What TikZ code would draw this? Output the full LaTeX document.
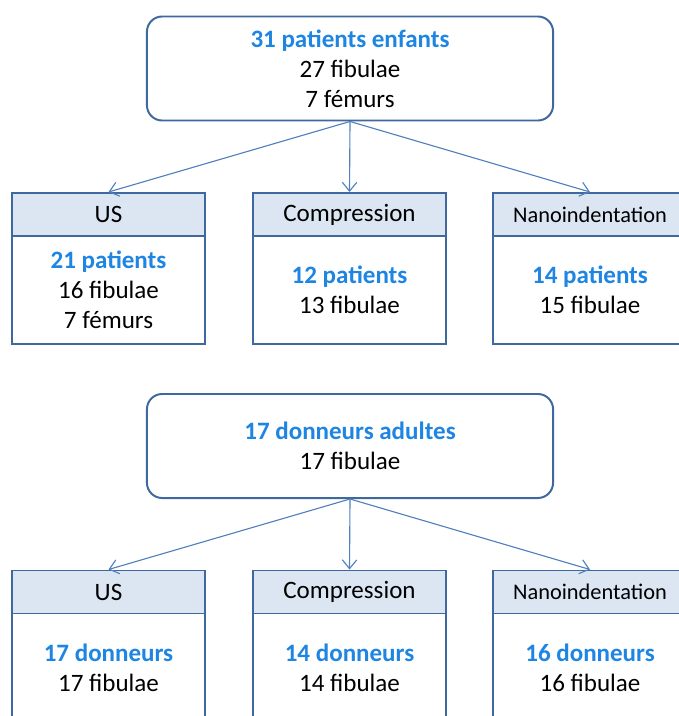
\documentclass[tikz,border=0pt]{standalone}
\usepackage{fontspec}
\setmainfont{Carlito}
\usetikzlibrary{arrows.meta}
\definecolor{boxEdge}{RGB}{62,104,158}
\definecolor{linkBlue}{RGB}{80,128,190}
\definecolor{headFill}{RGB}{220,230,242}
\definecolor{countBlue}{RGB}{31,133,226}
\newcommand{\countline}[1]{\textcolor{countBlue}{\bfseries #1}}
\begin{document}
\begin{tikzpicture}[x=0.025cm,y=-0.025cm,font=\fontsize{17.8}{21.3}\selectfont,
groupBox/.style={draw=boxEdge,line width=1.4pt,rounded corners=0.38cm,fill=white,
  minimum width=10.15cm,minimum height=2.6cm,align=center,inner sep=0pt},
headBox/.style={draw=boxEdge,line width=1.4pt,fill=headFill,
  minimum width=4.825cm,minimum height=1.075cm,inner sep=0pt},
bodyBox/.style={draw=boxEdge,line width=1.4pt,fill=white,
  minimum width=4.825cm,align=center,inner sep=0pt},
link/.style={draw=linkBlue,line width=0.8pt,-{Straight Barb[length=2.2mm,width=3.6mm]}}]
\useasboundingbox (0,0) rectangle (678,716);
% enfants
\node[groupBox] (kids) at (350,68.5) {\countline{31 patients enfants}\\27 fibulae\\7 fémurs};
\node[bodyBox,minimum height=2.7cm] (kidsUSbody) at (108.5,290) {\countline{21 patients}\\16 fibulae\\7 fémurs};
\node[headBox] (kidsUS) at (108.5,214.5) {US};
\node[bodyBox,minimum height=2.7cm] (kidsCompbody) at (349.5,290) {\countline{12 patients}\\13 fibulae};
\node[headBox] (kidsComp) at (349.5,214.5) {Compression};
\node[bodyBox,minimum height=2.7cm] (kidsNanobody) at (590,290) {\countline{14 patients}\\15 fibulae};
\node[headBox,font=\fontsize{15.9}{19}\selectfont] (kidsNano) at (590,214.5) {Nanoindentation};
\draw[link] (kids.south) -- (kidsUS.north);
\draw[link] (kids.south) -- (kidsComp.north);
\draw[link] (kids.south) -- (kidsNano.north);
% adultes
\node[groupBox] (adults) at (350,446) {\countline{17 donneurs adultes}\\17 fibulae};
\node[bodyBox,minimum height=2.75cm] (adultsUSbody) at (108.5,668) {\countline{17 donneurs}\\17 fibulae};
\node[headBox] (adultsUS) at (108.5,592) {US};
\node[bodyBox,minimum height=2.75cm] (adultsCompbody) at (349.5,668) {\countline{14 donneurs}\\14 fibulae};
\node[headBox] (adultsComp) at (349.5,592) {Compression};
\node[bodyBox,minimum height=2.75cm] (adultsNanobody) at (590,668) {\countline{16 donneurs}\\16 fibulae};
\node[headBox,font=\fontsize{15.9}{19}\selectfont] (adultsNano) at (590,592) {Nanoindentation};
\draw[link] (adults.south) -- (adultsUS.north);
\draw[link] (adults.south) -- (adultsComp.north);
\draw[link] (adults.south) -- (adultsNano.north);
\end{tikzpicture}
\end{document}
